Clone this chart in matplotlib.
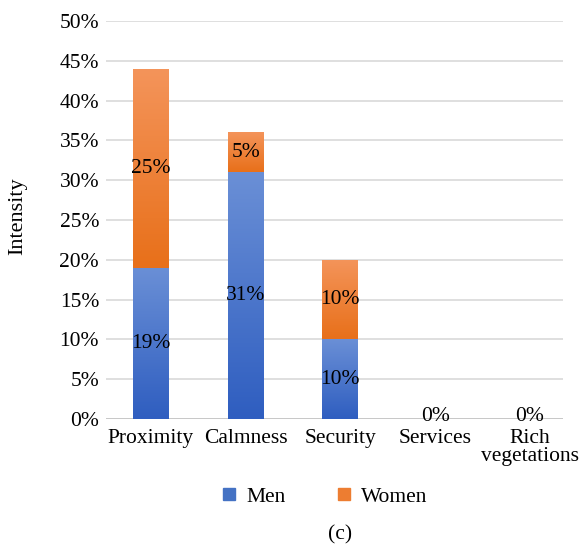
import matplotlib.pyplot as plt
import numpy as np
from matplotlib.colors import LinearSegmentedColormap
from matplotlib.lines import Line2D

plt.rcParams['font.family'] = ['Liberation Serif', 'DejaVu Serif']

# data (percent)
categories = ['Proximity', 'Calmness', 'Security', 'Services', 'Rich\nvegetations']
men = [19, 31, 10, 0, 0]
women = [25, 5, 10, 0, 0]
series_names = ['Men', 'Women']
yticks = list(range(0, 55, 5))

# gradient colours per series (top, bottom)
grad = {
    'Men': ('#6a8fd6', '#2f5ec0'),
    'Women': ('#f4945a', '#e8701a'),
}
solid = {'Men': '#4472c4', 'Women': '#ed7d31'}
FS = 15.5

fig = plt.figure(figsize=(5.81, 5.48), dpi=100)
ax = fig.add_axes([106 / 581, 1 - 419 / 548, (563 - 106) / 581, (419 - 21) / 548])

x = np.arange(len(categories))
width = 0.38

men_bars = ax.bar(x, men, width, color='none', edgecolor='none')
women_bars = ax.bar(x, women, width, bottom=men, color='none', edgecolor='none')


def fill_gradient(bars, top_col, bottom_col):
    cmap = LinearSegmentedColormap.from_list('g', [bottom_col, top_col])
    img = np.linspace(0, 1, 100).reshape(-1, 1)
    for b in bars:
        h = b.get_height()
        if h <= 0:
            continue
        x0, y0 = b.get_x(), b.get_y()
        im = ax.imshow(img, cmap=cmap, origin='lower', aspect='auto',
                       extent=[x0, x0 + b.get_width(), y0, y0 + h], zorder=2)
        im.set_clip_path(b)


fill_gradient(men_bars, *grad['Men'])
fill_gradient(women_bars, *grad['Women'])

# data labels
for i in range(len(categories)):
    if men[i] > 0:
        ax.text(x[i], men[i] / 2, f'{men[i]}%', ha='center', va='center',
                fontsize=FS, zorder=4)
    if women[i] > 0:
        ax.text(x[i], men[i] + women[i] / 2, f'{women[i]}%', ha='center',
                va='center', fontsize=FS, zorder=4)
    if men[i] + women[i] == 0:
        # zero values: label sits on the baseline
        ax.annotate('0%', (x[i], 0), xytext=(0, 2), textcoords='offset points',
                    ha='center', va='center', fontsize=FS, zorder=4)

ax.set_xlim(-0.475, 4.35)
ax.set_ylim(0, 50)
ax.set_yticks(yticks)
ax.set_yticklabels([f'{t}%' for t in yticks])
ax.set_xticks(x)
ax.set_xticklabels(categories, linespacing=0.95)
ax.tick_params(axis='both', length=0, labelsize=FS)
ax.tick_params(axis='y', pad=5)
ax.tick_params(axis='x', pad=7)
ax.yaxis.grid(True, color='#d9d9d9', linewidth=1.2, zorder=0)
ax.set_axisbelow(True)
for s in ax.spines.values():
    s.set_visible(False)
ax.axhline(0, color='#c8c8c8', linewidth=1.4, zorder=1)

fig.text(18 / 581, 1 - 216 / 548, 'Intensity', rotation=90, ha='center',
         va='center', fontsize=16)

handles = [Line2D([], [], marker='s', linestyle='none', markersize=9,
                  color=solid[n]) for n in series_names]
fig.legend(handles, series_names, loc='center', ncol=2, frameon=False,
           fontsize=FS, bbox_to_anchor=(325 / 581, 1 - 497 / 548),
           handlelength=0.6, handletextpad=0.5, columnspacing=2.4)

fig.text(340 / 581, 1 - 535 / 548, '(c)', ha='center', va='center', fontsize=FS)

fig.savefig('out.png', dpi=100)
